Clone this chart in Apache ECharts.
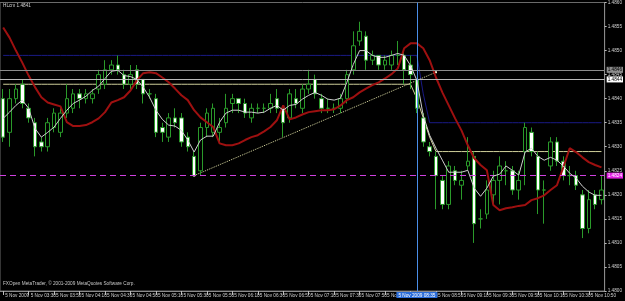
<!DOCTYPE html>
<html><head><meta charset="utf-8">
<script src="https://cdn.jsdelivr.net/npm/echarts@6/dist/echarts.min.js"></script>
<style>html,body{margin:0;padding:0;background:#000;}#c{width:625px;height:301px;}</style>
</head><body><div id="c"></div>
<script>
const times = ['03:10','03:15','03:20','03:25','03:30','03:35','03:40','03:45','03:50','03:55',
'04:00','04:05','04:10','04:15','04:20','04:25','04:30','04:35','04:40','04:45',
'04:50','04:55','05:00','05:05','05:10','05:15','05:20','05:25','05:30','05:35',
'05:40','05:45','05:50','05:55','06:00','06:05','06:10','06:15','06:20','06:25',
'06:30','06:35','06:40','06:45','06:50','06:55','07:00','07:05','07:10','07:15',
'07:20','07:25','07:30','07:35','07:40','07:45','07:50','07:55','08:00','08:05',
'08:10','08:15','08:20','08:25','08:30','08:35','08:40','08:45','08:50','08:55',
'09:00','09:05','09:10','09:15','09:20','09:25','09:30','09:35','09:40','09:45',
'09:50','09:55','10:00','10:05','10:10','10:15','10:20','10:25','10:30','10:35',
'10:40','10:45','10:50','10:55','11:00'];
const opens = [1.4840,1.4833,1.4840,1.4843,1.4838,1.4835,1.4831,1.4830,1.4834,1.4833,
1.4837,1.4838,1.4841,1.4840,1.4840,1.4842,1.4843,1.4846,1.4847,1.4845,
1.4843,1.4846,1.4844,1.4841,1.4840,1.4834,1.4832,1.4836,1.4836,1.4832,
1.4828,1.4825,1.4834,1.4833,1.4833,1.4835,1.4839,1.4840,1.4839,1.4836,
1.4838,1.4838,1.4838,1.4840,1.4838,1.4836,1.4840,1.4838,1.4842,1.4844,
1.4840,1.4838,1.4838,1.4838,1.4840,1.4846,1.4852,1.4853,1.4848,1.4849,
1.4847,1.4847,1.4849,1.4849,1.4847,1.4844,1.4836,1.4830,1.4828,1.4823,
1.4818,1.4825,1.4822,1.4826,1.4828,1.4815,1.4816,1.4820,1.4823,1.4825,
1.4825,1.4821,1.4829,1.4833,1.4828,1.4821,1.4826,1.4831,1.4827,1.4824,
1.4824,1.4820,1.4813,1.4820,1.4819];
const closes = [1.4832,1.4840,1.4842,1.4839,1.4836,1.4830,1.4830,1.4835,1.4837,1.4837,
1.4840,1.4841,1.4840,1.4841,1.4841,1.4845,1.4846,1.4847,1.4846,1.4843,
1.4845,1.4843,1.4841,1.4841,1.4833,1.4833,1.4836,1.4835,1.4831,1.4830,
1.4824,1.4834,1.4837,1.4838,1.4834,1.4838,1.4840,1.4839,1.4837,1.4838,
1.4838,1.4838,1.4839,1.4838,1.4835,1.4841,1.4839,1.4842,1.4843,1.4841,
1.4838,1.4838,1.4838,1.4840,1.4845,1.4851,1.4854,1.4848,1.4849,1.4847,
1.4848,1.4849,1.4849,1.4846,1.4845,1.4838,1.4831,1.4829,1.4824,1.4818,
1.4826,1.4823,1.4823,1.4827,1.4814,1.4815,1.4821,1.4823,1.4826,1.4825,
1.4821,1.4823,1.4834,1.4829,1.4821,1.4821,1.4831,1.4827,1.4824,1.4824,
1.4822,1.4813,1.4819,1.4818,1.4821];
const lows = [1.4831,1.4830,1.4839,1.4838,1.4835,1.4828,1.4829,1.4829,1.4833,1.4832,
1.4836,1.4837,1.4838,1.4839,1.4839,1.4841,1.4842,1.4845,1.4845,1.4842,
1.4842,1.4842,1.4839,1.4840,1.4832,1.4831,1.4831,1.4834,1.4830,1.4829,
1.4824,1.4824,1.4832,1.4832,1.4831,1.4834,1.4837,1.4837,1.4836,1.4835,
1.4837,1.4837,1.4837,1.4837,1.4832,1.4835,1.4838,1.4837,1.4841,1.4840,
1.4837,1.4837,1.4837,1.4837,1.4839,1.4845,1.4851,1.4846,1.4847,1.4846,
1.4846,1.4846,1.4847,1.4843,1.4842,1.4837,1.4830,1.4828,1.4817,1.4817,
1.4817,1.4822,1.4819,1.4825,1.4810,1.4813,1.4815,1.4818,1.4818,1.4822,
1.4820,1.4819,1.4822,1.4828,1.4816,1.4814,1.4825,1.4826,1.4823,1.4822,
1.4821,1.4811,1.4812,1.4817,1.4818];
const highs = [1.4842,1.4842,1.4843,1.4844,1.4839,1.4836,1.4832,1.4836,1.4838,1.4838,
1.4843,1.4842,1.4842,1.4842,1.4842,1.4846,1.4848,1.4848,1.4849,1.4846,
1.4847,1.4847,1.4844,1.4842,1.4841,1.4835,1.4837,1.4838,1.4837,1.4833,
1.4829,1.4835,1.4838,1.4839,1.4836,1.4841,1.4841,1.4840,1.4840,1.4839,
1.4839,1.4839,1.4841,1.4842,1.4838,1.4842,1.4842,1.4843,1.4846,1.4845,
1.4841,1.4840,1.4839,1.4841,1.4846,1.4854,1.4856,1.4854,1.4850,1.4849,
1.4849,1.4850,1.4852,1.4850,1.4849,1.4844,1.4837,1.4831,1.4829,1.4824,
1.4827,1.4826,1.4825,1.4832,1.4829,1.4817,1.4823,1.4825,1.4828,1.4827,
1.4826,1.4825,1.4835,1.4834,1.4829,1.4823,1.4832,1.4832,1.4828,1.4826,
1.4825,1.4821,1.4821,1.4821,1.4824];
const redLine = [1.48548,1.48527,1.48500,1.48475,1.48448,1.48424,1.48403,1.48392,1.48388,1.48384,
1.48351,1.48343,1.48343,1.48345,1.48351,1.48359,1.48372,1.48392,1.48397,1.48403,
1.48417,1.48438,1.48453,1.48455,1.48453,1.48444,1.48434,1.48421,1.48407,1.48397,
1.48376,1.48361,1.48351,1.48341,1.48307,1.48303,1.48303,1.48307,1.48314,1.48320,
1.48324,1.48332,1.48341,1.48355,1.48386,1.48357,1.48361,1.48367,1.48372,1.48374,
1.48376,1.48376,1.48378,1.48386,1.48397,1.48403,1.48413,1.48421,1.48428,1.48434,
1.48442,1.48451,1.48463,1.48505,1.48515,1.48515,1.48505,1.48480,1.48444,1.48413,
1.48386,1.48359,1.48334,1.48303,1.48276,1.48262,1.48251,1.48179,1.48168,1.48172,
1.48174,1.48177,1.48179,1.48189,1.48193,1.48199,1.48210,1.48220,1.48257,1.48297,
1.48289,1.48278,1.48268,1.48262,1.48257];
const fastMA = [1.48359,1.48372,1.48386,1.48397,1.48380,1.48338,1.48320,1.48330,1.48341,1.48359,
1.48376,1.48390,1.48397,1.48405,1.48417,1.48426,1.48442,1.48457,1.48459,1.48448,
1.48446,1.48440,1.48424,1.48403,1.48376,1.48357,1.48345,1.48343,1.48334,1.48314,
1.48289,1.48314,1.48322,1.48322,1.48351,1.48370,1.48376,1.48376,1.48372,1.48372,
1.48370,1.48372,1.48380,1.48386,1.48376,1.48386,1.48388,1.48399,1.48407,1.48413,
1.48407,1.48399,1.48397,1.48401,1.48434,1.48471,1.48500,1.48500,1.48490,1.48486,
1.48486,1.48490,1.48494,1.48490,1.48469,1.48438,1.48365,1.48324,1.48297,1.48272,
1.48247,1.48247,1.48247,1.48251,1.48214,1.48197,1.48214,1.48239,1.48243,1.48260,
1.48251,1.48241,1.48289,1.48297,1.48280,1.48272,1.48278,1.48272,1.48260,1.48245,
1.48235,1.48218,1.48206,1.48199,1.48199];
const navyLevel = [];
const khakiLevel = [];
const navyBefore = 1.4849, navyTrans = [1.4849, 1.4841], navyAfter = 1.4835;
const khakiBefore = 1.4843, khakiTrans = [1.4840, 1.4836, 1.4832], khakiAfter = 1.4829;
for (let i = 0; i < times.length; i++) {
  navyLevel.push(i < 65 ? navyBefore : (i < 67 ? navyTrans[i - 65] : navyAfter));
  khakiLevel.push(i < 65 ? khakiBefore : (i < 68 ? khakiTrans[i - 65] : khakiAfter));
}
const trendStart = ['05:40', 1.4824], trendEnd = ['08:50', 1.48455];
const grayLevel1 = 1.4846, grayLevel2 = 1.4844, purpleLevel = 1.4824;
const cursorTime = '08:35';
const cursorLabel = '5 Nov 2009 08:35';
const headText = 'HLcm 1.4841';
const footText = 'FXOpen MetaTrader, \u00a9 2001-2009 MetaQuotes Software Corp.';

const candles = opens.map((o, i) => [o, closes[i], lows[i], highs[i]]);
const F = 'Liberation Sans, Arial, sans-serif';
const FS = 4.7;
const chart = echarts.init(document.getElementById('c'), null, {renderer: 'canvas'});
const showIdx = (i) => i % 4 === 0;
const lvlLabel = (bg, fg) => ({show: true, position: 'end', color: fg, backgroundColor: bg, fontSize: FS, fontFamily: F, padding: [1, 1, 0, 1], distance: 2});
chart.setOption({
  backgroundColor: '#000',
  animation: false,
  grid: {left: -2, right: 16, top: 2, bottom: 10, show: true, borderColor: '#6a6a6a', borderWidth: 1, backgroundColor: '#000'},
  xAxis: {
    type: 'category', data: times, boundaryGap: true,
    axisLine: {show: true, lineStyle: {color: '#8a8a8a'}},
    axisTick: {show: true, alignWithLabel: true, interval: (i) => showIdx(i), length: 4, lineStyle: {color: '#bbb'}},
    axisLabel: {interval: (i) => showIdx(i), showMinLabel: true, hideOverlap: false,
      formatter: (v, i) => i === 0 ? '5 Nov 2009' : '5 Nov ' + v,
      align: 'left', margin: 2, padding: [0, 0, 0, 2], color: '#d0d0d0', fontSize: FS, fontFamily: F},
    splitLine: {show: false}
  },
  yAxis: {
    type: 'value', position: 'right', min: 1.4800, max: 1.4860, interval: 0.0005, scale: true,
    axisLine: {show: true, lineStyle: {color: '#8a8a8a'}},
    axisTick: {show: true, length: 2, lineStyle: {color: '#bbb'}},
    axisLabel: {formatter: (v) => v.toFixed(4), color: '#d0d0d0', fontSize: FS, margin: 3, fontFamily: F},
    splitLine: {show: false}
  },
  graphic: [
    {type: 'text', left: 3, top: 3, style: {text: headText, fill: '#d0d0d0', font: FS + 'px ' + F}},
    {type: 'text', left: 3, top: 281, style: {text: footText, fill: '#c8c8c8', font: FS + 'px ' + F}}
  ],
  series: [
    {type: 'line', data: navyLevel, symbol: 'none', lineStyle: {color: '#1a1a86', width: 1}, z: 1, silent: true,
      markLine: {silent: true, symbol: 'none', animation: false, precision: 4,
        data: [
          {yAxis: grayLevel1, lineStyle: {color: '#8c8c8c', width: 1, type: 'solid'}, label: lvlLabel('#8c8c8c', '#000')},
          {yAxis: grayLevel2, lineStyle: {color: '#b8b8b8', width: 1, type: 'solid'}, label: lvlLabel('#ffffff', '#000')},
          {yAxis: purpleLevel, lineStyle: {color: '#d040e0', width: 1.2, type: [6, 4], opacity: 1}, label: lvlLabel('#e020e0', '#fff')},
          {xAxis: cursorTime, lineStyle: {color: '#4a8ee8', width: 1, type: 'solid'},
            label: {show: true, position: 'start', formatter: cursorLabel, color: '#fff', backgroundColor: '#2a6cd8', fontSize: FS, fontFamily: F, padding: [1, 2, 0, 2], distance: 1}}
        ]}
    },
    {type: 'line', data: khakiLevel, symbol: 'none', lineStyle: {color: '#cfcf9a', width: 1}, z: 1, silent: true},
    {type: 'line', data: [trendStart, trendEnd], symbol: ['none', 'rect'], symbolSize: 2, showSymbol: true,
      itemStyle: {color: '#f0f0d0'}, lineStyle: {color: '#d8d8a0', width: 1, type: 'dotted'}, z: 2, silent: true},
    {type: 'candlestick', data: candles, barWidth: 4, z: 3,
      itemStyle: {color: '#000000', color0: '#ffffff', borderColor: '#2a9a2a', borderColor0: '#2a9a2a', borderWidth: 1}},
    {type: 'line', data: redLine, symbol: 'none', lineStyle: {color: '#9e1010', width: 2}, z: 4, silent: true},
    {type: 'line', data: fastMA, symbol: 'none', lineStyle: {color: '#cfcfcf', width: 1}, z: 5, silent: true}
  ]
});
</script></body></html>
